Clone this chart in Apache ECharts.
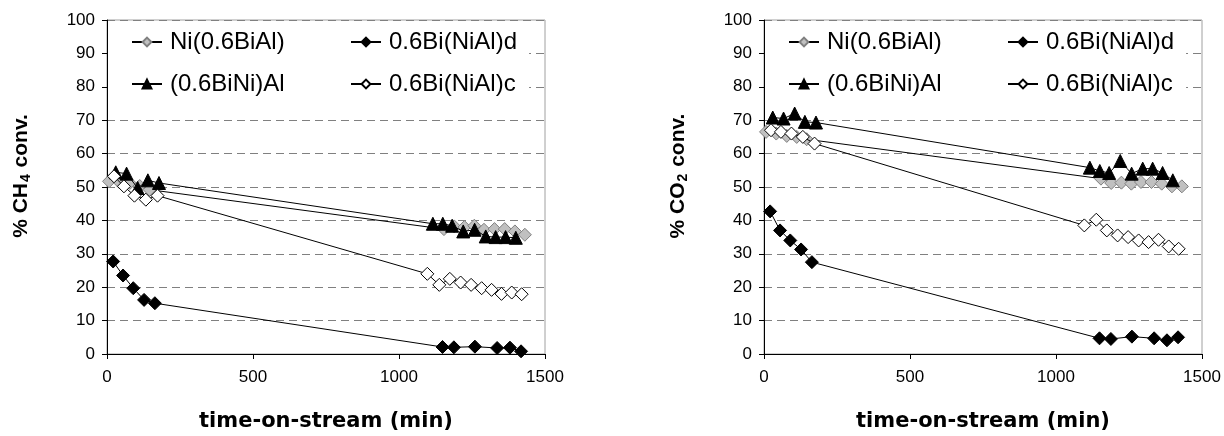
<!DOCTYPE html>
<html>
<head>
<meta charset="utf-8">
<script src="https://cdn.jsdelivr.net/npm/echarts@6/dist/echarts.min.js"></script>
<style>
  html, body { margin: 0; padding: 0; background: #ffffff; }
  #chart { width: 1224px; height: 436px; }
</style>
</head>
<body>
<div id="chart"></div>
<script>
// Sampling times (min) for each catalyst
const timeNiBiAl   = [7, 42, 78, 112, 146, 1154, 1189, 1224, 1258, 1291, 1327, 1362, 1397, 1431];
const timeBiNiAl_d = [21, 55, 90, 127, 164, 1149, 1188, 1260, 1336, 1380, 1418];
const timeBiNi_Al  = [30, 67, 105, 140, 178, 1116, 1150, 1182, 1220, 1259, 1297, 1331, 1365, 1400];
const timeBiNiAl_c = [24, 58, 94, 133, 173, 1097, 1138, 1174, 1211, 1247, 1283, 1317, 1351, 1386, 1420];

// CH4 conversion (%)
const ch4NiBiAl   = [51.7, 51.5, 51.2, 50.3, 49.2, 37.4, 38.2, 38.0, 38.4, 37.2, 37.4, 37.4, 36.7, 35.7];
const ch4BiNiAl_d = [27.7, 23.5, 19.7, 16.2, 15.2, 2.1, 2.0, 2.2, 1.8, 1.9, 0.8];
const ch4BiNi_Al  = [54.4, 54.0, 49.7, 52.0, 51.2, 39.0, 39.0, 38.4, 36.7, 37.2, 35.2, 35.0, 35.0, 34.8];
const ch4BiNiAl_c = [53.2, 50.2, 47.4, 46.2, 47.4, 24.0, 20.7, 22.5, 21.4, 20.7, 19.7, 19.2, 18.0, 18.4, 17.9];

// CO2 conversion (%)
const co2NiBiAl   = [66.5, 66.0, 65.3, 65.0, 64.3, 52.5, 51.2, 51.3, 51.0, 51.5, 51.5, 51.0, 50.2, 50.2];
const co2BiNiAl_d = [42.7, 37.0, 34.0, 31.3, 27.5, 4.7, 4.5, 5.2, 4.7, 4.1, 5.0];
const co2BiNi_Al  = [70.8, 70.5, 72.0, 69.5, 69.3, 55.8, 54.8, 54.2, 57.8, 54.0, 55.5, 55.5, 54.2, 52.0];
const co2BiNiAl_c = [67.0, 66.5, 66.0, 65.0, 63.0, 38.5, 40.2, 37.0, 35.5, 35.0, 34.0, 33.5, 34.2, 32.2, 31.5];

const seriesNames = ['Ni(0.6BiAl)', '0.6Bi(NiAl)d', '(0.6BiNi)Al', '0.6Bi(NiAl)c'];
const xTitle = 'time-on-stream (min)';

const FONT = '"Liberation Sans", Arial, sans-serif';
const TITLE_FONT = '"DejaVu Sans", "Liberation Sans", Arial, sans-serif';

const markerStyles = [
  { symbol: 'diamond',  size: 13, color: '#c0c0c0', border: '#808080' },
  { symbol: 'diamond',  size: 13, color: '#000000', border: '#000000' },
  { symbol: 'triangle', size: 13, color: '#000000', border: '#000000' },
  { symbol: 'diamond',  size: 13, color: '#ffffff', border: '#000000' }
];

const pairs = (xs, ys) => xs.map((x, i) => [x, ys[i]]);

function makeSeries(gridIdx, times, values) {
  return values.map((vals, k) => ({
    name: seriesNames[k],
    type: 'line',
    xAxisIndex: gridIdx,
    yAxisIndex: gridIdx,
    data: pairs(times[k], vals),
    symbol: markerStyles[k].symbol,
    symbolSize: markerStyles[k].size,
    showAllSymbol: true,
    lineStyle: { color: '#000000', width: 1 },
    itemStyle: { color: markerStyles[k].color, borderColor: markerStyles[k].border, borderWidth: 1 },
    emphasis: { disabled: true },
    z: 2 + k
  }));
}

const times = [timeNiBiAl, timeBiNiAl_d, timeBiNi_Al, timeBiNiAl_c];

const plotLefts = [107, 764];
const plotWidth = 438;

function xAxis(gridIdx) {
  return {
    gridIndex: gridIdx,
    type: 'value',
    min: 0, max: 1500, interval: 500,
    name: xTitle,
    nameLocation: 'middle',
    nameGap: 57,
    nameTextStyle: { fontSize: 21, fontWeight: 'bold', color: '#000', fontFamily: TITLE_FONT },
    axisLine: { lineStyle: { color: '#000', width: 1 } },
    axisTick: { inside: false, length: 5, lineStyle: { color: '#000' } },
    axisLabel: { fontSize: 17, color: '#000', margin: 15, fontFamily: FONT, formatter: v => String(v) },
    splitLine: { show: false }
  };
}

function yAxis(gridIdx, nameRich) {
  return {
    gridIndex: gridIdx,
    type: 'value',
    min: 0, max: 100, interval: 10,
    name: nameRich,
    nameLocation: 'middle',
    nameGap: 74,
    nameRotate: 90,
    nameTextStyle: {
      fontSize: 21, fontWeight: 'bold', color: '#000', fontFamily: FONT,
      padding: [0, 0, 0, 22],
      rich: {
        b: { fontSize: 21, fontWeight: 'bold', color: '#000', fontFamily: FONT },
        sub: { fontSize: 14, fontWeight: 'bold', color: '#000', fontFamily: FONT, padding: [9, 1, 0, 1] }
      }
    },
    axisLine: { show: true, lineStyle: { color: '#000', width: 1 } },
    axisTick: { show: true, inside: false, length: 5, lineStyle: { color: '#000' } },
    axisLabel: { fontSize: 17, color: '#000', margin: 12, fontFamily: FONT },
    splitLine: { show: true, lineStyle: { color: '#808080', type: [8, 5], width: 1 } }
  };
}

// One legend box per plot: 2 x 2 items on a white panel;
// first-column labels get a fixed width so the second column lines up
function legend(gridIdx) {
  return {
    data: seriesNames.map((n, k) => (k % 2 === 0 ? { name: n, textStyle: { width: 162 } } : { name: n })),
    orient: 'horizontal',
    left: plotLefts[gridIdx] + 1,
    top: 21,
    width: 440,
    padding: [9, 12, 10, 23],
    itemGap: 18,
    itemWidth: 30,
    itemHeight: 11,
    backgroundColor: '#ffffff',
    selectedMode: false,
    textStyle: { fontSize: 24, lineHeight: 24, color: '#000', fontFamily: FONT, padding: [0, 0, 0, 3] }
  };
}

const chart = echarts.init(document.getElementById('chart'), null, { renderer: 'canvas' });

chart.setOption({
  backgroundColor: '#ffffff',
  animation: false,
  grid: plotLefts.map(l => ({
    left: l, top: 20, width: plotWidth, height: 334,
    show: true, borderColor: '#a0a0a0', borderWidth: 1, backgroundColor: 'transparent',
    containLabel: false, outerBoundsMode: 'none'
  })),
  legend: [legend(0), legend(1)],
  xAxis: [xAxis(0), xAxis(1)],
  yAxis: [
    yAxis(0, '{b|% CH}{sub|4}{b| conv.}'),
    yAxis(1, '{b|% CO}{sub|2}{b| conv.}')
  ],
  series: [
    ...makeSeries(0, times, [ch4NiBiAl, ch4BiNiAl_d, ch4BiNi_Al, ch4BiNiAl_c]),
    ...makeSeries(1, times, [co2NiBiAl, co2BiNiAl_d, co2BiNi_Al, co2BiNiAl_c])
  ]
});
</script>
</body>
</html>
